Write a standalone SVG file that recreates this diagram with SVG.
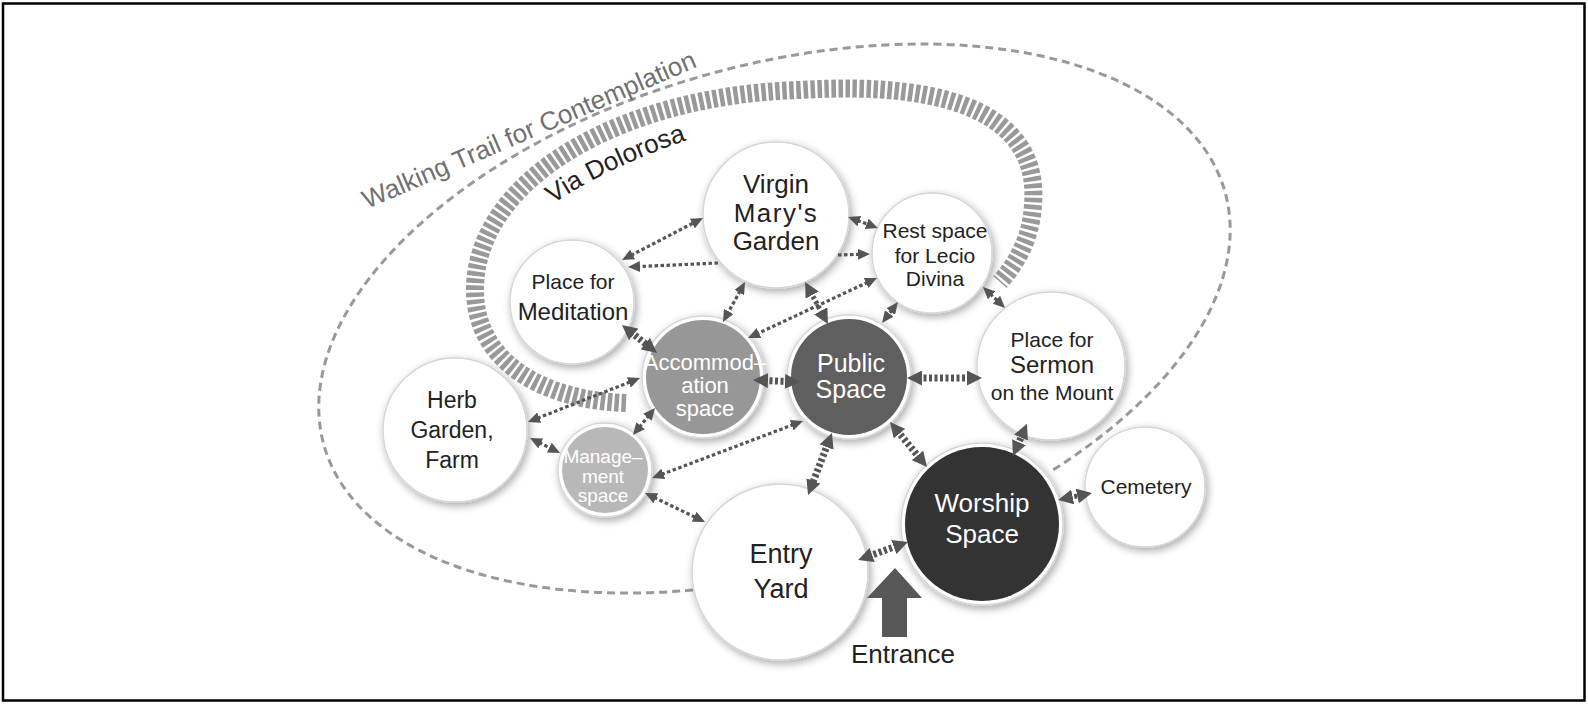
<svg xmlns="http://www.w3.org/2000/svg" width="1588" height="705" viewBox="0 0 1588 705">
<style>
.t{font-family:"Liberation Sans",Arial,sans-serif;text-anchor:middle}
.dk{fill:#222}
.wt{fill:#fff}
.ring{fill:#fff;stroke:#d6d6d6;stroke-width:1.5}
.c{fill:none;stroke:#555;stroke-width:3.2;stroke-dasharray:3.5 2.5}
.k{fill:none;stroke:#555;stroke-width:7;stroke-dasharray:3 2.5}
.m{fill:none;stroke:#555;stroke-width:5;stroke-dasharray:3 2.5}
</style>
<defs>
<filter id="sh" x="-30%" y="-30%" width="160%" height="160%">
<feGaussianBlur in="SourceAlpha" stdDeviation="4"/>
<feOffset dx="2" dy="3"/>
<feComponentTransfer><feFuncA type="linear" slope="0.35"/></feComponentTransfer>
<feMerge><feMergeNode/><feMergeNode in="SourceGraphic"/></feMerge>
</filter>
<marker id="a" viewBox="0 0 12 11" refX="2" refY="5.5" markerWidth="12" markerHeight="11" markerUnits="userSpaceOnUse" orient="auto-start-reverse"><path d="M0,0 L12,5.5 L0,11 z" fill="#555"/></marker>
<marker id="ak" viewBox="0 0 15 15" refX="4" refY="7.5" markerWidth="15" markerHeight="15" markerUnits="userSpaceOnUse" orient="auto-start-reverse"><path d="M0,0 L15,7.5 L0,15 z" fill="#555"/></marker>
</defs>
<rect x="3" y="3.5" width="1581.5" height="697" fill="#fff" stroke="#000" stroke-width="2.5"/>

<g id="trails">
<path d="M 693 590 A 468 253 -15.7 1 1 1053 470" fill="none" stroke="#999" stroke-width="3" stroke-dasharray="8 5"/>
<path d="M 626 403 C 540 400, 475 360, 475 290 C 475 180, 620 95, 800 90 C 960 80, 1040 120, 1033 205 C 1031 240, 1015 265, 1000 282" fill="none" stroke="#999" stroke-width="18" stroke-dasharray="4.5 2.5"/>
<text class="t" x="0" y="0" font-size="26" fill="#707070" style="text-anchor:start" transform="translate(367 209) rotate(-23.3)">Walking Trail for Contemplation</text>
<path id="vdp" d="M 553 204 Q 612 164 705 134" fill="none"/>
<text class="t dk" font-size="26" style="text-anchor:start"><textPath href="#vdp">Via Dolorosa</textPath></text>
</g>

<g id="node-virgin">
<circle class="ring" cx="776" cy="215" r="73" filter="url(#sh)"/>
<text class="t dk" x="776" y="193" font-size="26">Virgin</text>
<text class="t dk" x="776" y="222" font-size="26" letter-spacing="1.5">Mary's</text>
<text class="t dk" x="776" y="250" font-size="26">Garden</text>
</g>
<g id="node-rest">
<circle class="ring" cx="932" cy="253" r="60" filter="url(#sh)"/>
<text class="t dk" x="935" y="238" font-size="21">Rest space</text>
<text class="t dk" x="935" y="263" font-size="21">for Lecio</text>
<text class="t dk" x="935" y="286" font-size="21">Divina</text>
</g>
<g id="node-meditation">
<circle class="ring" cx="572" cy="302" r="62" filter="url(#sh)"/>
<text class="t dk" x="573" y="289" font-size="21">Place for</text>
<text class="t dk" x="573" y="320" font-size="24">Meditation</text>
</g>
<g id="node-herb">
<circle class="ring" cx="455" cy="430" r="72" filter="url(#sh)"/>
<text class="t dk" x="452" y="408" font-size="23">Herb</text>
<text class="t dk" x="452" y="438" font-size="23">Garden,</text>
<text class="t dk" x="452" y="468" font-size="23">Farm</text>
</g>
<g id="node-accommodation">
<circle class="ring" cx="703" cy="377" r="61" filter="url(#sh)"/>
<circle cx="703" cy="377" r="57" fill="#979797"/>
<text class="t wt" x="705" y="370" font-size="22">Accommod–</text>
<text class="t wt" x="705" y="393" font-size="22">ation</text>
<text class="t wt" x="705" y="416" font-size="22">space</text>
</g>
<g id="node-public">
<circle class="ring" cx="849" cy="377" r="62" filter="url(#sh)"/>
<circle cx="849" cy="377" r="58" fill="#5f5f5f"/>
<text class="t wt" x="851" y="372" font-size="25">Public</text>
<text class="t wt" x="851" y="398" font-size="25">Space</text>
</g>
<g id="node-sermon">
<circle class="ring" cx="1051" cy="366" r="74" filter="url(#sh)"/>
<text class="t dk" x="1052" y="347" font-size="21">Place for</text>
<text class="t dk" x="1052" y="373" font-size="24">Sermon</text>
<text class="t dk" x="1052" y="400" font-size="21">on the Mount</text>
</g>
<g id="node-management">
<circle class="ring" cx="605" cy="470" r="47" filter="url(#sh)"/>
<circle cx="605" cy="470" r="43" fill="#b8b8b8"/>
<text class="t wt" x="603" y="463" font-size="19">Manage–</text>
<text class="t wt" x="603" y="483" font-size="19">ment</text>
<text class="t wt" x="603" y="502" font-size="19">space</text>
</g>
<g id="node-entry">
<circle class="ring" cx="780" cy="572" r="88" filter="url(#sh)"/>
<text class="t dk" x="781" y="563" font-size="27">Entry</text>
<text class="t dk" x="781" y="598" font-size="27">Yard</text>
</g>
<g id="node-worship">
<circle class="ring" cx="982" cy="524" r="81" filter="url(#sh)"/>
<circle cx="982" cy="524" r="77" fill="#333"/>
<text class="t wt" x="982" y="512" font-size="26">Worship</text>
<text class="t wt" x="982" y="543" font-size="26">Space</text>
</g>
<g id="node-cemetery">
<circle class="ring" cx="1145" cy="487" r="60" filter="url(#sh)"/>
<text class="t dk" x="1146" y="494" font-size="21">Cemetery</text>
</g>

<g id="connectors">
<line class="c" x1="630.9" y1="255.4" x2="694.1" y2="222.6" marker-start="url(#a)" marker-end="url(#a)"/>
<line class="c" x1="718" y1="263" x2="638" y2="266.6" marker-end="url(#a)"/>
<line class="c" x1="857.4" y1="220.4" x2="868.6" y2="224.6" marker-start="url(#a)" marker-end="url(#a)"/>
<line class="c" x1="838" y1="255" x2="860" y2="254.3" marker-end="url(#a)"/>
<line class="c" x1="867.9" y1="282.2" x2="757.1" y2="333.8" marker-start="url(#a)" marker-end="url(#a)"/>
<line class="m" x1="810.3" y1="291.6" x2="822.7" y2="314.4" marker-start="url(#ak)" marker-end="url(#ak)"/>
<line class="c" x1="891.9" y1="310" x2="888.1" y2="315" marker-start="url(#a)" marker-end="url(#a)"/>
<line class="c" x1="740.2" y1="290.8" x2="727.8" y2="313.2" marker-start="url(#a)" marker-end="url(#a)"/>
<line class="c" x1="990.2" y1="293.9" x2="997.8" y2="301.1" marker-start="url(#a)" marker-end="url(#a)"/>
<line class="k" x1="630.6" y1="331.9" x2="648.4" y2="346.1" marker-start="url(#ak)" marker-end="url(#ak)"/>
<line class="c" x1="537.3" y1="418.3" x2="630.7" y2="381.7" marker-start="url(#a)" marker-end="url(#a)"/>
<line class="c" x1="538.9" y1="442.5" x2="551.1" y2="448.5" marker-start="url(#a)" marker-end="url(#a)"/>
<line class="c" x1="639.3" y1="427.2" x2="648.7" y2="415.8" marker-start="url(#a)" marker-end="url(#a)"/>
<line class="k" x1="764" y1="380.5" x2="789" y2="381.5" marker-start="url(#ak)" marker-end="url(#ak)"/>
<line class="c" x1="661.4" y1="474.5" x2="793.6" y2="424.5" marker-start="url(#a)" marker-end="url(#a)"/>
<line class="c" x1="654" y1="497.4" x2="696" y2="517.6" marker-start="url(#a)" marker-end="url(#a)"/>
<line class="k" x1="828" y1="443.3" x2="812" y2="484.7" marker-start="url(#ak)" marker-end="url(#ak)"/>
<line class="k" x1="918" y1="378" x2="971" y2="378" marker-start="url(#ak)" marker-end="url(#ak)"/>
<line class="k" x1="897" y1="430.5" x2="920" y2="458.5" marker-start="url(#ak)" marker-end="url(#ak)"/>
<line class="k" x1="1017.4" y1="445.9" x2="1022.6" y2="433.9" marker-start="url(#ak)" marker-end="url(#ak)"/>
<line class="m" x1="1068.8" y1="497.8" x2="1081.2" y2="495.2" marker-start="url(#ak)" marker-end="url(#ak)"/>
<line class="k" x1="868.4" y1="556.3" x2="897.6" y2="545.7" marker-start="url(#ak)" marker-end="url(#ak)"/>
</g>

<g id="entrance">
<polygon points="895,568 922,598 907,598 907,637 882,637 882,598 867,598" fill="#575757"/>
<text class="t dk" x="903" y="663" font-size="26">Entrance</text>
</g>
</svg>
